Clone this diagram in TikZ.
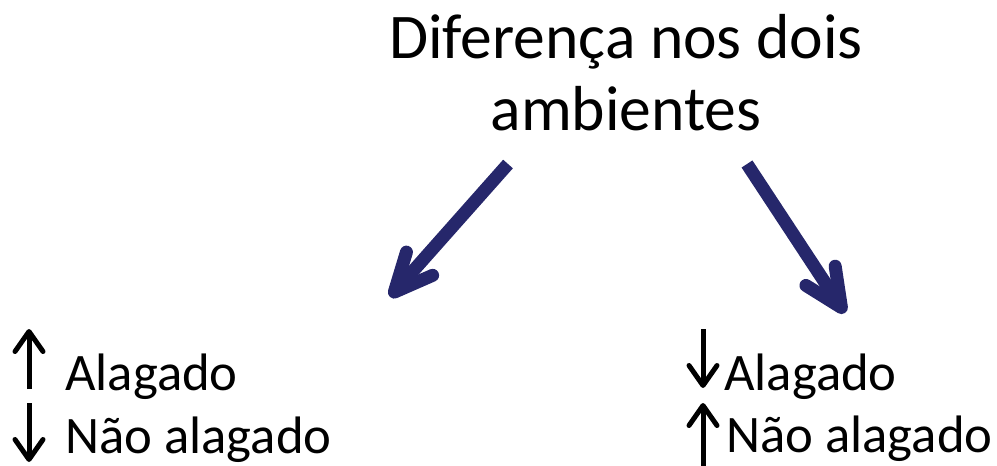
\documentclass[tikz,border=0pt]{standalone}
\usepackage{fontspec}
\setmainfont{Carlito}
\usetikzlibrary{arrows.meta}
\definecolor{navy}{RGB}{38,39,107}
\tikzstyle{titulo} = [align=center, font=\fontsize{36.2}{41.5}\selectfont, inner sep=0pt]
\tikzstyle{rotulo} = [anchor=base west, font=\fontsize{30}{36}\selectfont, inner sep=0pt]
\tikzstyle{seta} = [navy, line width=0.26cm, -{Straight Barb[length=0.76cm, width=0.7cm, round]}]
\tikzstyle{setinha} = [black, line width=0.1cm, -{Straight Barb[length=0.4cm, width=0.56cm, round]}]

\begin{document}
\begin{tikzpicture}[x=0.02cm, y=-0.02cm]
        \useasboundingbox (0,0) rectangle (997,466);
        \node (tit) [titulo, anchor=base] at (626,131) {Diferença nos dois\\ambientes};

        \coordinate (ini1) at (508,164);
        \coordinate (fim1) at (390,297);
        \draw [seta] (ini1) -- (fim1);
        \coordinate (ini2) at (747,164);
        \coordinate (fim2) at (845,313);
        \draw [seta] (ini2) -- (fim2);

        % lado esquerdo
        \node (alag1) [rotulo] at (65,390) {Alagado};
        \node (nao1) [rotulo] at (65,453) {Não alagado};
        \coordinate (a1) at (29,389);
        \coordinate (a2) at (29,329);
        \draw [setinha] (a1) -- (a2);
        \coordinate (a3) at (29,403);
        \coordinate (a4) at (29,462);
        \draw [setinha] (a3) -- (a4);

        % lado direito
        \node (alag2) [rotulo] at (724,390) {Alagado};
        \node (nao2) [rotulo] at (726,452) {Não alagado};
        \coordinate (b1) at (703,329);
        \coordinate (b2) at (703,388);
        \draw [setinha] (b1) -- (b2);
        \coordinate (b3) at (703,468);
        \coordinate (b4) at (703,403);
        \draw [setinha] (b3) -- (b4);
\end{tikzpicture}
\end{document}
